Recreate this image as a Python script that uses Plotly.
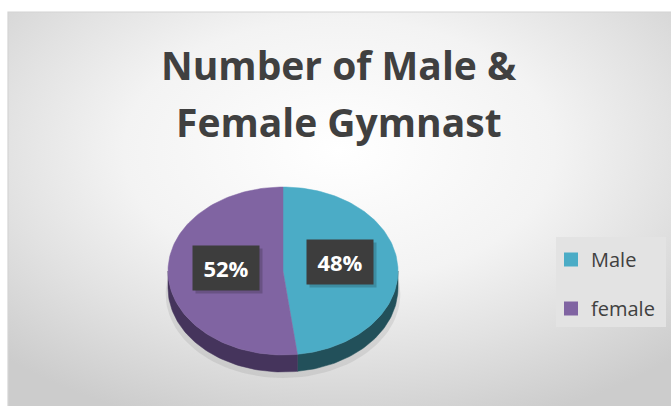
import numpy as np
import plotly.graph_objects as go

# ---- data ----
categories = ["Male", "female"]
values = [48, 52]
top_colors = ["#4BACC6", "#8064A2"]
side_colors = ["#22505A", "#45345C"]
title_lines = ["Number of Male &", "Female Gymnast"]

W, H = 671, 406
cx, cy, rx, ry, depth = 283, 271, 115, 84, 17

def pt(theta_deg, dy=0.0):
    t = np.radians(theta_deg)
    return cx + rx * np.sin(t), cy - ry * np.cos(t) + dy

fig = go.Figure()

# background panel with radial gradient (gradient box larger than visible panel)
fig.add_trace(go.Scatter(
    x=[-140, 819, 819, -140, -140], y=[-140, -140, 440, 440, -140],
    mode="lines", fill="toself", line=dict(width=0, color="rgba(0,0,0,0)"),
    fillgradient=dict(type="radial",
                      colorscale=[[0, "#ffffff"], [0.45, "#f3f3f3"], [0.7, "#e2e2e2"], [1, "#cccccc"]]),
    showlegend=False, hoverinfo="skip"))
# white page margins outside the chart panel
for xs, ys in [([-5, W + 5, W + 5, -5, -5], [-5, -5, 12, 12, -5]),
               ([-5, 8, 8, -5, -5], [-5, -5, H + 5, H + 5, -5])]:
    fig.add_trace(go.Scatter(x=xs, y=ys, mode="lines", fill="toself", fillcolor="white",
                             line=dict(width=0, color="white"), showlegend=False, hoverinfo="skip"))
# panel border
fig.add_trace(go.Scatter(x=[8, 8, W + 2], y=[H + 2, 12, 12], mode="lines",
                         line=dict(color="#d4d4d4", width=1.2), showlegend=False, hoverinfo="skip"))

# soft shadow under pie
sx = cx + rx * np.sin(np.linspace(0, 2 * np.pi, 120)) * 1.02
sy = cy + depth + 6 + ry * np.cos(np.linspace(0, 2 * np.pi, 120)) * 1.0
fig.add_trace(go.Scatter(x=sx, y=sy, mode="lines", fill="toself",
                         line=dict(width=0, color="rgba(0,0,0,0)"),
                         fillcolor="rgba(120,120,120,0.16)", showlegend=False, hoverinfo="skip"))

total = sum(values)
angles = []
a = 0.0
for v in values:
    b = a + 360.0 * v / total
    angles.append((a, b))
    a = b

# side walls (front visible arc between 90 and 270 deg)
for (a0, a1), col in zip(angles, side_colors):
    lo, hi = max(a0, 90), min(a1, 270)
    if hi <= lo:
        continue
    th = np.linspace(lo, hi, 60)
    xs_top, ys_top = pt(th)
    xs_bot, ys_bot = pt(th[::-1], depth)
    fig.add_trace(go.Scatter(
        x=np.concatenate([xs_top, xs_bot, xs_top[:1]]),
        y=np.concatenate([ys_top, ys_bot, ys_top[:1]]),
        mode="lines", fill="toself", fillcolor=col,
        line=dict(width=0.5, color=col), showlegend=False, hoverinfo="skip"))

# top faces
for (a0, a1), col, name in zip(angles, top_colors, categories):
    th = np.linspace(a0, a1, 120)
    xs, ys = pt(th)
    fig.add_trace(go.Scatter(
        x=np.concatenate([[cx], xs, [cx]]),
        y=np.concatenate([[cy], ys, [cy]]),
        mode="lines", fill="toself", fillcolor=col,
        line=dict(width=0.5, color=col), name=name,
        showlegend=False, hoverinfo="skip"))

# legend entries (square swatches)
for col, name in zip(top_colors, categories):
    fig.add_trace(go.Scatter(
        x=[None], y=[None], mode="markers", name=name, legendgroup=name,
        marker=dict(symbol="square", size=14, color=col)))

# data labels
for (a0, a1), v in zip(angles, values):
    mid = (a0 + a1) / 2
    lx, ly = cx + 0.5 * rx * np.sin(np.radians(mid)), cy - 0.5 * ry * np.cos(np.radians(mid)) - 6
    fig.add_annotation(x=lx + 3, y=ly + 3, xref="x", yref="y", text=" ", showarrow=False,
                       width=64, height=42, bgcolor="rgba(0,0,0,0.18)")
    fig.add_annotation(x=lx, y=ly, xref="x", yref="y", text=f"<b>{v}%</b>", showarrow=False,
                       width=64, height=42, bgcolor="#3d3d3d",
                       font=dict(family="Open Sans", size=22, color="white"))

# title lines
for line, yc in zip(title_lines, [65, 121]):
    fig.add_annotation(x=0.505, y=1 - yc / H, xref="paper", yref="paper",
                       xanchor="center", yanchor="middle", text=f"<b>{line}</b>",
                       showarrow=False, font=dict(family="Open Sans", size=39, color="#404040"))

# legend background panel
fig.add_shape(type="rect", xref="x", yref="y", x0=556, x1=666, y0=237, y1=327,
              fillcolor="#e3e3e3", line=dict(width=0), layer="above")

fig.update_layout(
    width=W, height=H, margin=dict(l=0, r=0, t=0, b=0),
    paper_bgcolor="white", plot_bgcolor="rgba(0,0,0,0)",
    xaxis=dict(range=[0, W], visible=False, fixedrange=True),
    yaxis=dict(range=[H, 0], visible=False, fixedrange=True),
    legend=dict(x=551 / W, y=1 - 240 / H, xanchor="left", yanchor="top",
                bgcolor="rgba(0,0,0,0)", font=dict(family="Open Sans", size=20, color="#404040"),
                tracegroupgap=20, itemwidth=30, borderwidth=0),
    showlegend=True,
)

fig.write_html("out.html")
